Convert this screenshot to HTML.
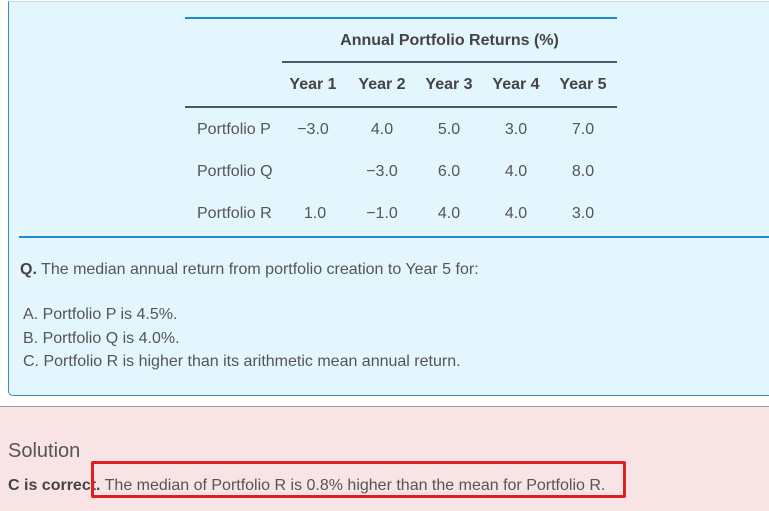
<!DOCTYPE html>
<html><head><style>
body{margin:0;width:769px;height:510px;overflow:hidden;background:#fff;font-family:"Liberation Sans",Arial,sans-serif;position:relative}
.a{position:absolute;white-space:nowrap}
.panel{position:absolute;left:8px;top:1px;width:780px;height:393px;background:#e3f5fd;border:1px solid #3d8fb0;border-top:1px solid #d0d8e0;border-radius:0 0 0 5px}
.pink{position:absolute;left:0;top:406px;width:769px;height:104px;background:#f8e4e4;border-top:1px solid #a09898}
.t{font-size:16px;color:#555}
.h{font-size:16px;color:#444;font-weight:bold}
.c{text-align:center;width:60px}
</style></head><body>
<div class="panel"></div>
<div class="a" style="left:185px;top:17px;width:432px;height:2px;background:#1d8ad0"></div>
<div class="a h" style="left:282px;top:32px;width:335px;text-align:center">Annual Portfolio Returns (%)</div>
<div class="a" style="left:282px;top:61px;width:335px;height:2px;background:#4a5a66"></div>
<div class="a h c" style="left:283px;top:76px">Year 1</div>
<div class="a h c" style="left:352px;top:76px">Year 2</div>
<div class="a h c" style="left:419px;top:76px">Year 3</div>
<div class="a h c" style="left:486px;top:76px">Year 4</div>
<div class="a h c" style="left:553px;top:76px">Year 5</div>
<div class="a" style="left:185px;top:106px;width:432px;height:2px;background:#4a5a66"></div>

<div class="a t" style="left:197px;top:121px">Portfolio P</div>
<div class="a t c" style="left:283px;top:121px">−3.0</div>
<div class="a t c" style="left:352px;top:121px">4.0</div>
<div class="a t c" style="left:419px;top:121px">5.0</div>
<div class="a t c" style="left:486px;top:121px">3.0</div>
<div class="a t c" style="left:553px;top:121px">7.0</div>

<div class="a t" style="left:197px;top:163px">Portfolio Q</div>
<div class="a t c" style="left:352px;top:163px">−3.0</div>
<div class="a t c" style="left:419px;top:163px">6.0</div>
<div class="a t c" style="left:486px;top:163px">4.0</div>
<div class="a t c" style="left:553px;top:163px">8.0</div>

<div class="a t" style="left:197px;top:205px">Portfolio R</div>
<div class="a t c" style="left:285px;top:205px">1.0</div>
<div class="a t c" style="left:352px;top:205px">−1.0</div>
<div class="a t c" style="left:419px;top:205px">4.0</div>
<div class="a t c" style="left:486px;top:205px">4.0</div>
<div class="a t c" style="left:553px;top:205px">3.0</div>

<div class="a" style="left:19px;top:236px;width:750px;height:2px;background:#1d8ad0"></div>

<div class="a t" style="left:20px;top:261px"><b style="color:#444">Q.</b> The median annual return from portfolio creation to Year 5 for:</div>
<div class="a t" style="left:23px;top:306px">A. Portfolio P is 4.5%.</div>
<div class="a t" style="left:23px;top:330px">B. Portfolio Q is 4.0%.</div>
<div class="a t" style="left:23px;top:353px">C. Portfolio R is higher than its arithmetic mean annual return.</div>

<div class="pink"></div>
<div class="a" style="left:8px;top:440px;font-size:20px;color:#555">Solution</div>
<div class="a t" style="left:8px;top:477px"><b style="color:#444">C is correct.</b> The median of Portfolio R is 0.8% higher than the mean for Portfolio R.</div>
<div class="a" style="left:91px;top:461px;width:529px;height:31px;border:3px solid #e02020;border-radius:2px"></div>
</body></html>
